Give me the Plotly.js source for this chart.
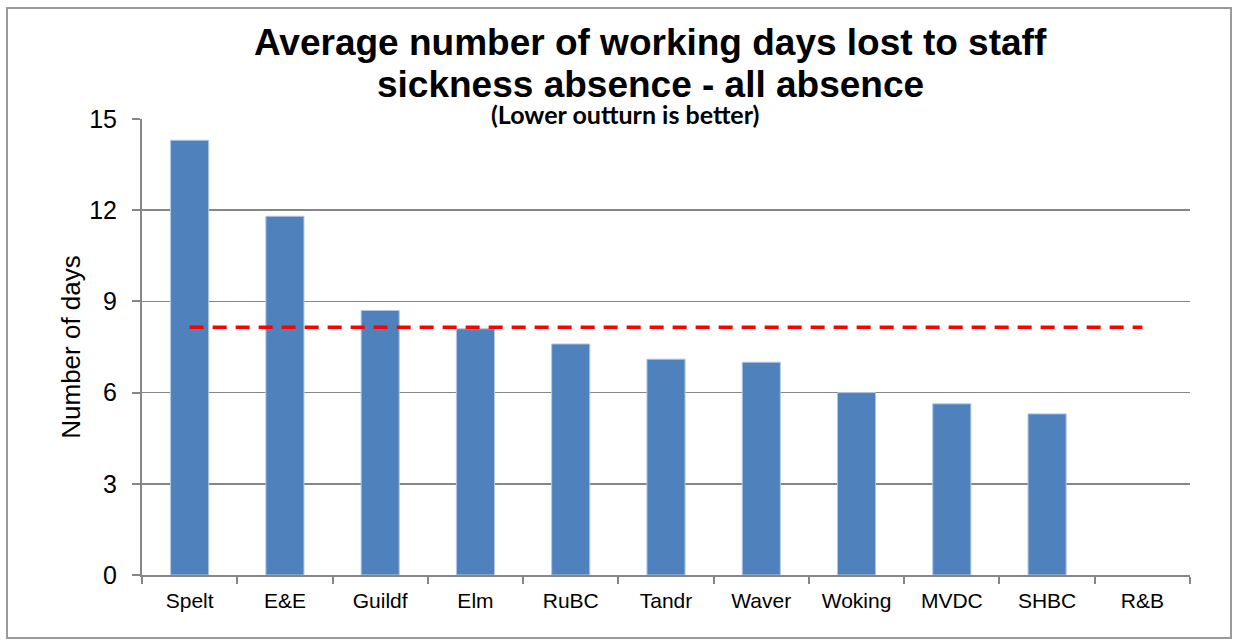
<!DOCTYPE html>
<html><head><meta charset="utf-8">
<script src="https://cdn.plot.ly/plotly-3.0.1.min.js"></script>
<style>
html,body{margin:0;padding:0;background:#fff;}
#chart{width:1235px;height:643px;}
#frame{position:absolute;left:6px;top:7px;width:1222px;height:628px;border:2px solid #9a9a9a;pointer-events:none;}
</style></head>
<body>
<div id="chart"></div>
<div id="frame"></div>
<script>
const categories = ["Spelt","E&E","Guildf","Elm","RuBC","Tandr","Waver","Woking","MVDC","SHBC","R&B"];
const daysLost = [14.3, 11.8, 8.7, 8.1, 7.6, 7.1, 7.0, 6.0, 5.63, 5.3, null];
const averageDays = [8.15, 8.15, 8.15, 8.15, 8.15, 8.15, 8.15, 8.15, 8.15, 8.15, 8.15];
const yTicks = [0, 3, 6, 9, 12, 15];
const titleLine1 = "Average number of working days lost to staff";
const titleLine2 = "sickness absence - all absence";
const subtitle = "(Lower outturn is better)";
const yTitle = "Number of days";

const traces = [
  {type:'bar', x:categories, y:daysLost,
   marker:{color:'#4F81BD', line:{color:'#B0C8E4', width:1}},
   hoverinfo:'x+y', showlegend:false},
  {type:'scatter', mode:'lines', x:categories, y:averageDays,
   line:{color:'#FF0000', width:3.5, dash:'14px,9px'},
   hoverinfo:'y', showlegend:false}
];

const layout = {
  width:1235, height:643,
  margin:{l:142, r:45, t:119, b:68},
  paper_bgcolor:'#fff', plot_bgcolor:'#fff',
  bargap:0.6,
  font:{family:'"Liberation Sans", Arial, sans-serif', color:'#000'},
  xaxis:{type:'category', showgrid:false, showline:true, linecolor:'#868686', linewidth:2,
         ticks:'outside', tickson:'boundaries', ticklen:7, tickcolor:'#868686', tickwidth:2,
         ticklabelstandoff:6,
         tickfont:{size:21, color:'#000'}, fixedrange:true},
  yaxis:{range:[0,15], tickvals:yTicks, ticktext:yTicks.map(String), showgrid:true, gridcolor:'#868686', gridwidth:1.5,
         showline:true, linecolor:'#868686', linewidth:2, zeroline:false,
         ticks:'outside', ticklen:8, tickcolor:'#868686', tickwidth:2,
         ticklabelstandoff:10,
         tickfont:{size:25, color:'#000'},
         title:{text:yTitle, font:{size:26, color:'#000'}, standoff:1}, fixedrange:true},
  annotations:[
    {xref:'paper', yref:'paper', x:(650-142)/1048, y:1+(119-43)/456, text:'<b>'+titleLine1+'</b>', showarrow:false,
     font:{size:37, color:'#000'}, xanchor:'center', yanchor:'middle'},
    {xref:'paper', yref:'paper', x:(650-142)/1048, y:1+(119-84)/456, text:'<b>'+titleLine2+'</b>', showarrow:false,
     font:{size:37, color:'#000'}, xanchor:'center', yanchor:'middle'},
    {xref:'paper', yref:'paper', x:(625-142)/1048, y:1+(119-114)/456, text:'<b>'+subtitle+'</b>', showarrow:false,
     font:{family:'Lato, "Open Sans", sans-serif', size:25, color:'#000'}, xanchor:'center', yanchor:'middle'}
  ]
};
Plotly.newPlot('chart', traces, layout, {displayModeBar:false, staticPlot:true});
</script>
</body></html>
